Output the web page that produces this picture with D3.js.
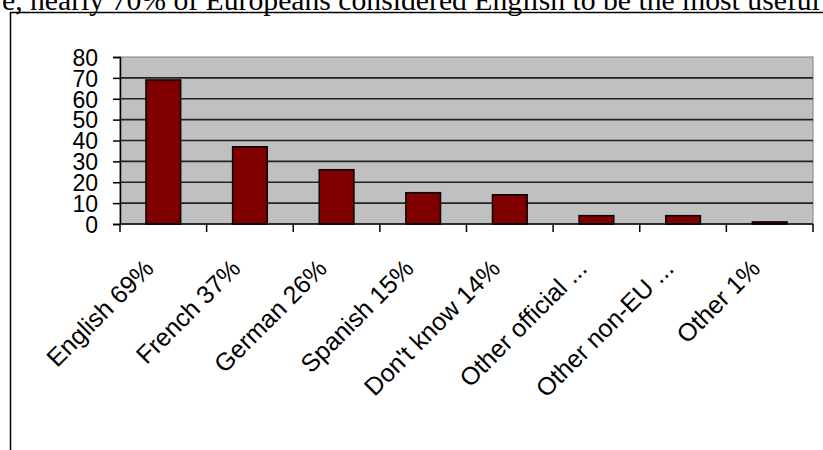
<!DOCTYPE html>
<html>
<head>
<meta charset="utf-8">
<script src="https://cdn.jsdelivr.net/npm/d3@7"></script>
<style>
  body { margin: 0; background: #fff; overflow: hidden; }
  svg { display: block; }
</style>
</head>
<body>
<svg id="chart" width="823" height="450"></svg>
<script>
const languages = ["English 69%", "French 37%", "German 26%", "Spanish 15%",
  "Don't know 14%", "Other official ...", "Other non-EU ...", "Other 1%"];
const percent = [69, 37, 26, 15, 14, 4, 4, 1];
const yTicks = [0, 10, 20, 30, 40, 50, 60, 70, 80];
const caption = "e, nearly 70% of Europeans considered English to be the most useful foreign language";

const svg = d3.select("#chart");
const plot = { left: 120, right: 813, top: 57, bottom: 224 };

// caption text cut by the top edge
svg.append("text")
  .attr("x", 2)
  .attr("y", 9.5)
  .attr("font-family", "Liberation Serif, Times New Roman, serif")
  .attr("font-size", 29.7)
  .text(caption);

// outer frame of the chart object
svg.append("path")
  .attr("d", "M10.5,460 V12.5 H830")
  .attr("fill", "none")
  .attr("stroke", "#000")
  .attr("stroke-width", 1.5);

const x = d3.scaleBand().domain(languages).range([plot.left, plot.right]);
const y = d3.scaleLinear().domain([0, 80]).range([plot.bottom, plot.top]);

// plot area
svg.append("rect")
  .attr("x", plot.left).attr("y", plot.top)
  .attr("width", plot.right - plot.left).attr("height", plot.bottom - plot.top)
  .attr("fill", "#c0c0c0")
  .attr("stroke", "#808080")
  .attr("stroke-width", 1);

// gridlines
svg.append("g")
  .selectAll("line")
  .data(yTicks.filter(d => d > 0 && d < 80))
  .join("line")
  .attr("x1", plot.left).attr("x2", plot.right)
  .attr("y1", d => y(d)).attr("y2", d => y(d))
  .attr("stroke", "#222")
  .attr("stroke-width", 1.6);

// bars
const barW = x.bandwidth() * 0.4;
svg.append("g")
  .selectAll("rect")
  .data(languages)
  .join("rect")
  .attr("x", d => x(d) + (x.bandwidth() - barW) / 2)
  .attr("y", (d, i) => y(percent[i]))
  .attr("width", barW)
  .attr("height", (d, i) => plot.bottom - y(percent[i]))
  .attr("fill", "#800000")
  .attr("stroke", "#000")
  .attr("stroke-width", 1.5);

// y axis
const yAxis = svg.append("g")
  .attr("transform", `translate(${plot.left},0)`)
  .call(d3.axisLeft(y).tickValues(yTicks).tickSize(7).tickPadding(15));
yAxis.select(".domain").attr("stroke", "#000").attr("stroke-width", 1.5);
yAxis.selectAll(".tick line").attr("stroke", "#000").attr("stroke-width", 1.5);
yAxis.selectAll("text")
  .attr("font-family", "Liberation Sans, Arial, sans-serif")
  .attr("font-size", 23)
  .attr("fill", "#000")
  .attr("dy", "0.36em");

// x axis: ticks on category boundaries
const xAxis = svg.append("g").attr("transform", `translate(0,${plot.bottom})`);
xAxis.append("line")
  .attr("x1", plot.left).attr("x2", plot.right)
  .attr("stroke", "#000").attr("stroke-width", 1.5);
xAxis.selectAll("line.tick")
  .data(languages.concat(["end"]))
  .join("line")
  .attr("class", "tick")
  .attr("x1", (d, i) => plot.left + i * x.step())
  .attr("x2", (d, i) => plot.left + i * x.step())
  .attr("y1", 0).attr("y2", 8)
  .attr("stroke", "#000").attr("stroke-width", 1.5);

xAxis.selectAll("text")
  .data(languages)
  .join("text")
  .attr("text-anchor", "end")
  .attr("font-family", "Liberation Sans, Arial, sans-serif")
  .attr("font-size", 25)
  .attr("transform", d => `translate(${x(d) + x.bandwidth() / 2 - 8},${46}) rotate(-45)`)
  .text(d => d);
</script>
</body>
</html>
